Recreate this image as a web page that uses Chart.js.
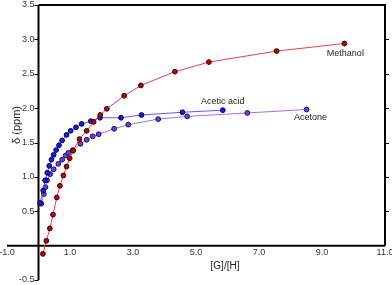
<!DOCTYPE html>
<html>
<head>
<meta charset="utf-8">
<script src="https://cdn.jsdelivr.net/npm/chart.js@4/dist/chart.umd.min.js"></script>
<style>
html,body{margin:0;padding:0;background:#fff;}
canvas{display:block;}
</style>
</head>
<body>
<canvas id="c" width="392" height="285"></canvas>
<script>
// ---- data ----
const methanolX = [0.14,0.25,0.36,0.46,0.58,0.68,0.79,0.89,0.99,1.10,1.30,1.53,1.75,1.96,2.17,2.72,3.25,4.33,5.41,7.56,9.71];
const methanolY = [-0.12,0.07,0.25,0.45,0.70,0.87,1.02,1.15,1.27,1.38,1.55,1.67,1.80,1.90,1.99,2.18,2.33,2.53,2.67,2.83,2.94];

const aceticX = [0.05,0.15,0.21,0.28,0.34,0.41,0.48,0.56,0.65,0.75,0.89,1.02,1.19,1.37,1.66,1.95,2.62,3.27,4.57,5.85];
const aceticY = [0.62,0.80,0.95,1.06,1.16,1.25,1.32,1.39,1.46,1.53,1.61,1.67,1.72,1.77,1.81,1.86,1.86,1.90,1.94,1.97];

const acetoneX = [0.09,0.17,0.22,0.27,0.37,0.48,0.63,0.75,0.86,0.95,1.09,1.33,1.53,1.72,1.91,2.40,2.85,3.80,4.72,6.63,8.51];
const acetoneY = [0.61,0.75,0.85,0.95,1.04,1.11,1.19,1.25,1.31,1.35,1.39,1.48,1.54,1.59,1.62,1.70,1.76,1.84,1.88,1.93,1.98];

const seriesNames = ["Methanol","Acetic acid","Acetone"];
const yTickValues = [-0.5,0.5,1.0,1.5,2.0,2.5,3.0,3.5];
const xTickValues = [-1,1,3,5,7,9,11];
const xTitle = "[G]/[H]";
const yTitle = "δ (ppm)";

function pts(xs, ys){ return xs.map((x,i)=>({x:x, y:ys[i]})); }

const FONT = '"Liberation Sans", Arial, sans-serif';

const axesPlugin = {
  id:'axesPlugin',
  beforeDatasetsDraw(chart){
    const ctx = chart.ctx, xs = chart.scales.x, ys = chart.scales.y;
    const x0 = xs.getPixelForValue(0), y0 = ys.getPixelForValue(0);
    const xMin = xs.getPixelForValue(-1), xMax = xs.getPixelForValue(11);
    const yMin = ys.getPixelForValue(-0.5), yMax = ys.getPixelForValue(3.5);
    ctx.save();
    ctx.strokeStyle = '#000';
    ctx.lineWidth = 2;
    ctx.beginPath();
    ctx.moveTo(xMin, y0); ctx.lineTo(xMax, y0);
    ctx.moveTo(x0, yMin); ctx.lineTo(x0, yMax);
    ctx.moveTo(x0, yMax); ctx.lineTo(xMax+1, yMax);
    ctx.moveTo(xMax, yMax); ctx.lineTo(xMax, y0);
    ctx.stroke();
    ctx.lineWidth = 1;
    ctx.beginPath();
    yTickValues.forEach(v=>{
      const py = Math.round(ys.getPixelForValue(v))+0.5;
      ctx.moveTo(x0-4, py); ctx.lineTo(x0, py);
      if (v>0 && v<3.5){ ctx.moveTo(xMax, py); ctx.lineTo(xMax+4, py); }
    });
    ctx.stroke();
    ctx.fillStyle = '#333';
    ctx.font = '9px ' + FONT;
    ctx.textAlign = 'right'; ctx.textBaseline = 'middle';
    yTickValues.forEach(v=>{
      ctx.fillText(v.toFixed(1), x0-4, ys.getPixelForValue(v));
    });
    ctx.textAlign = 'center'; ctx.textBaseline = 'middle';
    xTickValues.forEach(v=>{
      ctx.fillText(v.toFixed(1), xs.getPixelForValue(v), y0+6.5);
    });
    ctx.fillStyle = '#222';
    ctx.font = '10px ' + FONT;
    ctx.fillText(xTitle, 225, 266);
    ctx.save();
    ctx.translate(17, 125);
    ctx.rotate(-Math.PI/2);
    ctx.font = '11px ' + FONT;
    ctx.fillText(yTitle, 0, 0);
    ctx.restore();
    ctx.restore();
  },
  afterDraw(chart){
    const ctx = chart.ctx;
    ctx.save();
    ctx.fillStyle = '#222';
    ctx.font = '9px ' + FONT;
    ctx.textAlign = 'center'; ctx.textBaseline = 'middle';
    const offs = [[1,10],[0,-9],[4,8]];
    chart.data.datasets.forEach((ds,i)=>{
      const meta = chart.getDatasetMeta(i);
      const last = meta.data[meta.data.length-1];
      ctx.fillText(seriesNames[i], last.x+offs[i][0], last.y+offs[i][1]);
    });
    ctx.restore();
  }
};

new Chart(document.getElementById('c'), {
  type:'scatter',
  data:{
    datasets:[
      {label:seriesNames[0], data:pts(methanolX, methanolY), showLine:true,
       borderColor:'#ec3a55', borderWidth:1, backgroundColor:'#c40000',
       pointBackgroundColor:'#c40000', pointBorderColor:'#2a0000', pointBorderWidth:1, pointRadius:2.4},
      {label:seriesNames[1], data:pts(aceticX, aceticY), showLine:true,
       borderColor:'#5a5af0', borderWidth:1, backgroundColor:'#1c1ce0',
       pointBackgroundColor:'#1c1ce0', pointBorderColor:'#00005a', pointBorderWidth:1, pointRadius:2.4},
      {label:seriesNames[2], data:pts(acetoneX, acetoneY), showLine:true,
       borderColor:'#a070f0', borderWidth:1, backgroundColor:'#6a40d8',
       pointBackgroundColor:'#6a40d8', pointBorderColor:'#200a60', pointBorderWidth:1, pointRadius:2.4}
    ]
  },
  options:{
    responsive:false,
    animation:false,
    devicePixelRatio:1,
    layout:{padding:{left:7,right:7,top:5,bottom:5}},
    plugins:{legend:{display:false}, tooltip:{enabled:false}},
    scales:{
      x:{type:'linear', min:-1, max:11, display:false},
      y:{type:'linear', min:-0.5, max:3.5, display:false}
    }
  },
  plugins:[axesPlugin]
});
</script>
</body>
</html>
